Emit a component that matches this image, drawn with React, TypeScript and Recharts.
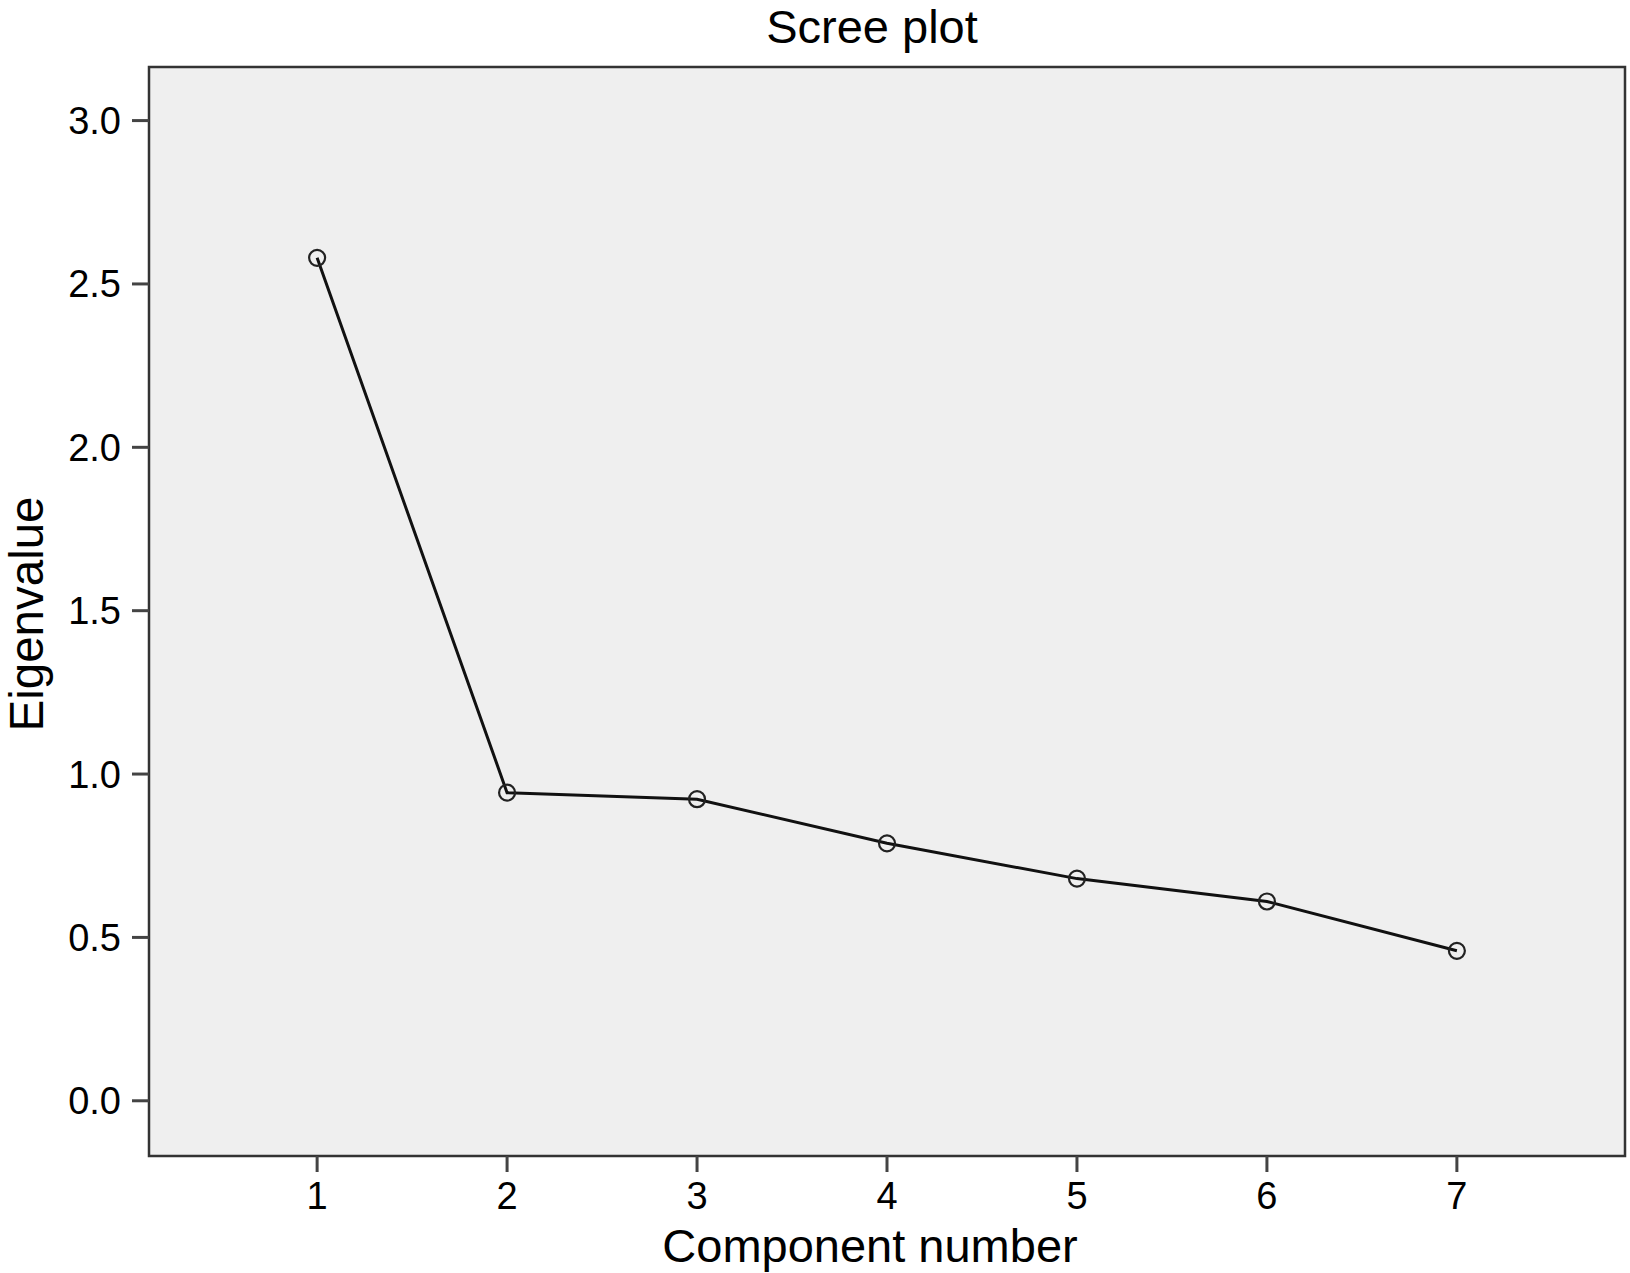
import { LineChart, Line, XAxis, YAxis, ReferenceArea } from 'recharts';

const components = [1, 2, 3, 4, 5, 6, 7];
const eigenvalues = [2.58, 0.943, 0.923, 0.788, 0.68, 0.61, 0.459];
const yTicks = [0, 0.5, 1.0, 1.5, 2.0, 2.5, 3.0];

const xDomain: [number, number] = [0.115, 7.885];
const yDomain: [number, number] = [-0.169, 3.164];

const FONT = '"Liberation Sans", Arial, Helvetica, sans-serif';

const data = components.map((c, i) => ({ component: c, eigenvalue: eigenvalues[i] }));

// open circle marker, like the SPSS scree plot
const OpenDot = (props: any) => {
  const { cx, cy } = props;
  if (cx == null || cy == null) return null;
  return <circle cx={cx} cy={cy} r={8} fill="none" stroke="#222" strokeWidth={2.2} />;
};

export default function App() {
  return (
    <div style={{ position: 'absolute', left: 0, top: 0, width: 1630, height: 1273, background: '#fff' }}>
      <LineChart width={1630} height={1273} data={data} margin={{ top: 67, right: 5, bottom: 0, left: 0 }}>
        <XAxis
          dataKey="component"
          type="number"
          domain={xDomain}
          ticks={components}
          allowDataOverflow
          height={117}
          axisLine={false}
          tickSize={16}
          tickMargin={10}
          tickLine={{ stroke: '#444', strokeWidth: 3 }}
          tick={{ fontSize: 38, fill: '#000', fontFamily: FONT }}
        />
        <YAxis
          type="number"
          domain={yDomain}
          ticks={yTicks}
          allowDataOverflow
          width={149}
          axisLine={false}
          tickSize={17}
          tickMargin={11}
          tickLine={{ stroke: '#444', strokeWidth: 3 }}
          tickFormatter={(v: number) => v.toFixed(1)}
          tick={{ fontSize: 38, fill: '#000', fontFamily: FONT }}
        />
        <ReferenceArea
          x1={xDomain[0]}
          x2={xDomain[1]}
          y1={yDomain[0]}
          y2={yDomain[1]}
          fill="#efefef"
          fillOpacity={1}
          stroke="#333"
          strokeWidth={2.5}
          ifOverflow="visible"
        />
        <Line
          type="linear"
          dataKey="eigenvalue"
          stroke="#111"
          strokeWidth={3}
          dot={<OpenDot />}
          activeDot={false}
          isAnimationActive={false}
        />
      </LineChart>
      <svg
        width={1630}
        height={1273}
        style={{ position: 'absolute', left: 0, top: 0, pointerEvents: 'none' }}
      >
        <text x={872} y={43} textAnchor="middle" fontSize={47} fontFamily={FONT} fill="#000">
          Scree plot
        </text>
        <text x={870} y={1262} textAnchor="middle" fontSize={47} fontFamily={FONT} fill="#000">
          Component number
        </text>
        <text
          x={43}
          y={614}
          textAnchor="middle"
          fontSize={47.5}
          fontFamily={FONT}
          fill="#000"
          transform="rotate(-90 43 614)"
        >
          Eigenvalue
        </text>
      </svg>
    </div>
  );
}
